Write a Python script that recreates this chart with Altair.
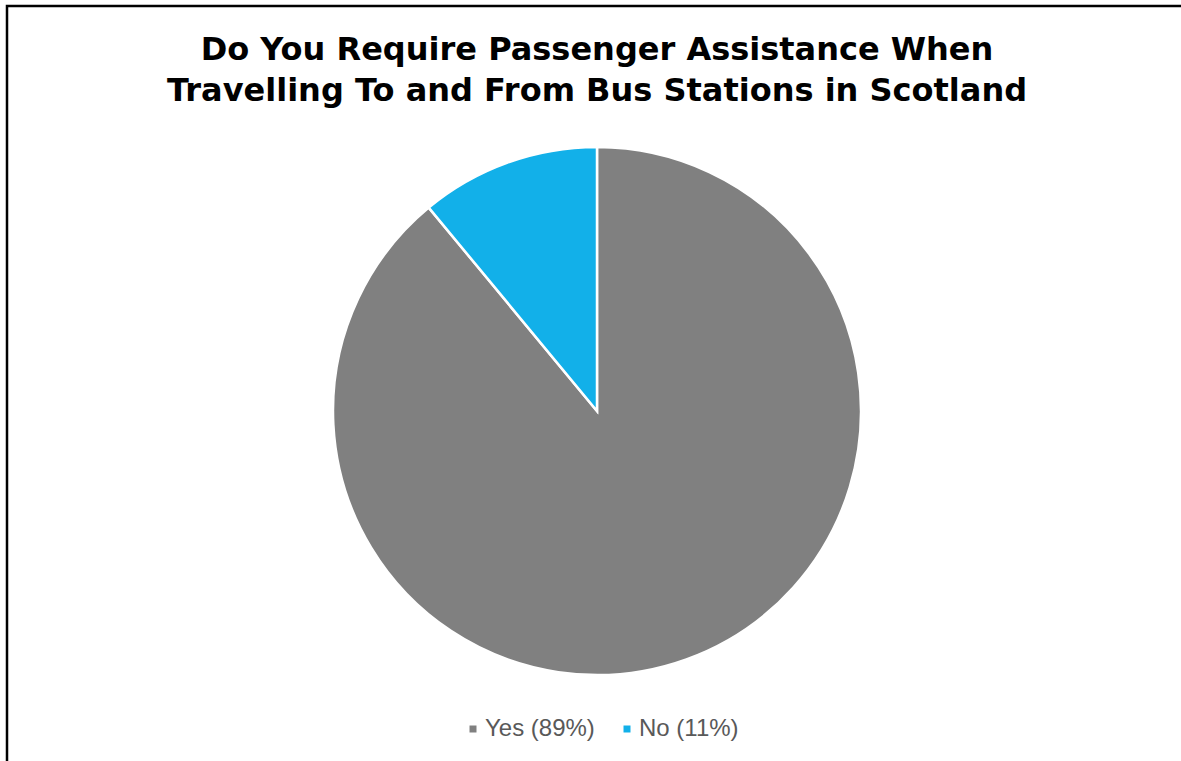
import altair as alt
import pandas as pd

categories = ["Yes (89%)", "No (11%)"]
values = [89, 11]
colors = ["#808080", "#12B0E9"]
title_lines = ["Do You Require Passenger Assistance When",
               "Travelling To and From Bus Stations in Scotland"]

FONT = "Arial, 'Liberation Sans', Arimo, sans-serif"
TITLE_FONT = "'DejaVu Sans', sans-serif"

pie_df = pd.DataFrame({"category": categories, "value": values, "order": list(range(len(categories)))})
title_df = pd.DataFrame({"line": title_lines, "y": [60, 101]})
one = pd.DataFrame({"a": [0]})

border = alt.Chart(one).mark_rect(fill=None, stroke="black", strokeWidth=2.5).encode(
    x=alt.value(7), x2=alt.value(1250), y=alt.value(6), y2=alt.value(820)
)

pie = alt.Chart(pie_df).mark_arc(radius=264, stroke="white", strokeWidth=2.5).encode(
    theta=alt.Theta("value:Q", stack=True),
    order=alt.Order("order:Q"),
    color=alt.Color(
        "category:N",
        scale=alt.Scale(domain=categories, range=colors),
        sort=categories,
        legend=alt.Legend(
            title=None, orient="none", direction="horizontal",
            legendX=461, legendY=717,
            symbolType="square", symbolSize=49, symbolStrokeWidth=0,
            labelFont=FONT, labelFontSize=24, labelColor="#595959",
            labelOffset=0, columnPadding=20,
        ),
    ),
    x=alt.value(597), y=alt.value(411),
)

title = alt.Chart(title_df).mark_text(
    font=TITLE_FONT, fontSize=32, fontWeight="bold", color="black",
    align="center", baseline="alphabetic",
).encode(
    text="line:N", x=alt.value(597), y=alt.Y("y:Q", scale=None),
)

chart = alt.layer(border, pie, title).properties(
    width=1181, height=761, padding=0,
    autosize=alt.AutoSizeParams(type="none"),
    background="white",
).configure_view(stroke=None)

chart.save("out.html", embed_options={"renderer": "svg", "actions": False})
